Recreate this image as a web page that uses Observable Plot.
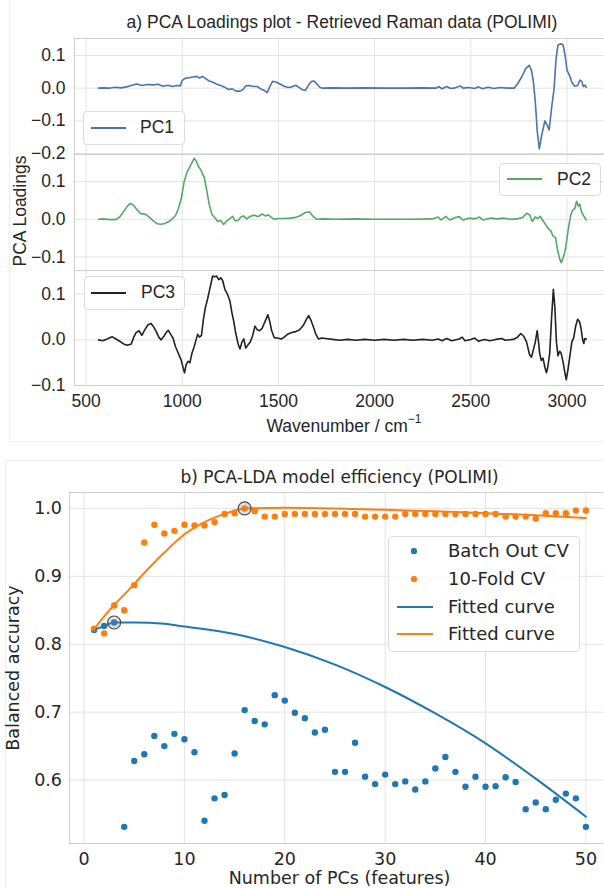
<!DOCTYPE html>
<html><head><meta charset="utf-8">
<script src="https://cdn.jsdelivr.net/npm/d3@7"></script>
<script src="https://cdn.jsdelivr.net/npm/@observablehq/plot@0.6"></script>
<style>
html,body{margin:0;padding:0;background:#fff;}
#root{position:relative;width:604px;height:889px;overflow:hidden;background:#fff;}
.abs{position:absolute;white-space:nowrap;line-height:1;color:#262626;}
</style></head><body><div id="root"></div>
<script>
// ---------- DATA ----------
const waveTicks = [500, 1000, 1500, 2000, 2500, 3000];
const pc1Ticks = [-0.2, -0.1, 0.0, 0.1];
const pc2Ticks = [-0.1, 0.0, 0.1];
const pc3Ticks = [-0.1, 0.0, 0.1];

const pc1 = [[565,0],[590,0.001],[620,0],[650,0.003],[680,0.001],[710,0.004],[740,0.009],[765,0.013],[790,0.008],[820,0.011],[850,0.01],[875,0.012],[900,0.006],[925,0.009],[950,0.005],[970,0.008],[990,0.007],[1000,0.024],[1015,0.03],[1035,0.032],[1055,0.034],[1075,0.036],[1090,0.031],[1105,0.036],[1120,0.03],[1140,0.022],[1160,0.018],[1180,0.012],[1200,0.008],[1220,0.003],[1240,-0.004],[1260,-0.002],[1280,-0.009],[1300,-0.009],[1315,-0.005],[1330,0.007],[1350,0.008],[1370,0.005],[1390,0.005],[1410,-0.003],[1430,-0.008],[1442,-0.014],[1455,0.005],[1470,0.021],[1490,0.018],[1510,0.012],[1530,0.006],[1550,0.002],[1570,0.004],[1590,0.009],[1605,0.003],[1625,-0.005],[1640,-0.007],[1655,0.008],[1670,0.02],[1685,0.022],[1700,0.013],[1715,0.003],[1730,0.0],[1780,0.001],[1850,0],[1950,0.001],[2050,0],[2150,0],[2250,0.001],[2320,0],[2335,0.005],[2350,-0.002],[2375,0.005],[2395,-0.001],[2420,0.001],[2445,0.007],[2460,0],[2490,0.002],[2520,-0.001],[2540,0.004],[2560,-0.002],[2590,0.003],[2620,-0.001],[2650,0.002],[2690,0],[2725,0],[2745,0.015],[2765,0.035],[2785,0.06],[2803,0.07],[2815,0.055],[2825,0.02],[2835,-0.04],[2845,-0.13],[2856,-0.186],[2868,-0.145],[2885,-0.1],[2897,-0.113],[2907,-0.128],[2920,-0.06],[2933,0.0],[2943,0.09],[2953,0.132],[2968,0.136],[2980,0.132],[2990,0.1],[3000,0.055],[3012,0.04],[3025,0.018],[3040,0.006],[3055,0.008],[3067,0.025],[3077,0.02],[3085,0.005],[3093,0.009],[3100,0.003]];

const pc2 = [[565,0],[590,0.001],[620,-0.001],[655,-0.001],[675,0.006],[695,0.02],[715,0.035],[730,0.042],[745,0.038],[765,0.025],[785,0.015],[810,0.013],[830,0.005],[850,-0.004],[870,-0.012],[890,-0.013],[910,-0.011],[930,-0.006],[950,0.002],[965,0.01],[980,0.028],[995,0.055],[1010,0.1],[1025,0.125],[1040,0.14],[1052,0.152],[1062,0.162],[1072,0.155],[1085,0.14],[1100,0.128],[1115,0.11],[1128,0.075],[1140,0.04],[1155,0.012],[1170,0.004],[1185,-0.006],[1200,-0.003],[1215,-0.014],[1230,-0.005],[1248,0.002],[1262,0.008],[1275,-0.004],[1290,-0.003],[1305,0.006],[1318,0.009],[1335,0.001],[1355,0.008],[1375,0.011],[1395,0.007],[1415,0.014],[1432,0.009],[1448,0.012],[1462,0.005],[1480,0.0],[1500,0.002],[1530,0.002],[1560,0.003],[1590,0.005],[1615,0.01],[1640,0.018],[1660,0.02],[1680,0.008],[1700,0.0],[1730,0.001],[1800,0],[1900,0.001],[2000,0],[2100,0],[2200,0],[2300,0.001],[2330,0.006],[2345,-0.002],[2370,0.008],[2390,-0.002],[2415,0.004],[2440,0.007],[2460,-0.002],[2490,0.003],[2520,0.001],[2545,0.006],[2565,-0.002],[2600,0.003],[2640,0.001],[2670,0.003],[2700,0],[2740,0.001],[2770,0.005],[2790,0.016],[2805,0.012],[2820,-0.006],[2835,0.006],[2848,0.002],[2860,0.008],[2875,-0.004],[2890,-0.015],[2903,-0.025],[2915,-0.03],[2928,-0.045],[2940,-0.048],[2952,-0.085],[2962,-0.105],[2970,-0.115],[2978,-0.105],[2990,-0.085],[3000,-0.05],[3010,-0.015],[3020,0.012],[3030,0.025],[3040,0.028],[3050,0.048],[3058,0.035],[3066,0.04],[3075,0.02],[3088,0.008],[3100,-0.002]];

const pc3 = [[565,0],[585,-0.002],[600,0.0],[615,0.003],[635,0.007],[655,0.002],[675,-0.003],[695,-0.009],[715,-0.012],[735,-0.009],[748,0.006],[760,0.016],[775,0.02],[790,0.01],[805,0.022],[822,0.033],[838,0.036],[852,0.028],[865,0.018],[878,0.006],[890,0.0],[905,0.008],[918,0.017],[928,0.021],[940,0.012],[952,0.004],[965,-0.015],[980,-0.03],[995,-0.045],[1005,-0.062],[1012,-0.072],[1020,-0.055],[1030,-0.047],[1040,-0.05],[1050,-0.03],[1062,-0.015],[1072,0.0],[1080,0.012],[1090,0.006],[1100,0.01],[1110,0.045],[1120,0.07],[1132,0.09],[1145,0.115],[1158,0.14],[1168,0.138],[1178,0.14],[1190,0.132],[1200,0.136],[1210,0.13],[1222,0.11],[1235,0.1],[1248,0.085],[1258,0.06],[1268,0.04],[1278,0.015],[1290,-0.008],[1300,-0.02],[1310,-0.005],[1320,0.002],[1330,-0.018],[1340,-0.012],[1352,-0.006],[1365,0.008],[1378,0.03],[1390,0.022],[1402,0.02],[1415,0.025],[1430,0.04],[1445,0.055],[1455,0.04],[1465,0.02],[1478,0.005],[1495,0.004],[1515,0.002],[1530,0.006],[1550,0.013],[1570,0.016],[1590,0.018],[1610,0.022],[1630,0.032],[1645,0.045],[1657,0.053],[1670,0.042],[1682,0.028],[1695,0.012],[1708,0.002],[1725,0.004],[1745,0.003],[1780,0.001],[1820,-0.001],[1860,0.001],[1900,-0.001],[1950,0.001],[2000,-0.001],[2050,0.001],[2100,-0.001],[2150,0.001],[2200,-0.001],[2250,0.001],[2300,-0.001],[2330,0.002],[2350,-0.002],[2375,0.003],[2400,-0.002],[2440,0.002],[2455,0.006],[2470,-0.002],[2500,0.001],[2520,0.004],[2540,-0.003],[2570,0.001],[2600,-0.002],[2630,0.001],[2660,0.003],[2680,-0.001],[2720,0.001],[2740,0.005],[2760,0.014],[2775,0.008],[2790,-0.005],[2805,-0.032],[2815,-0.038],[2825,-0.022],[2835,-0.005],[2845,0.02],[2852,-0.005],[2858,-0.03],[2866,-0.045],[2875,-0.04],[2885,-0.06],[2893,-0.072],[2900,-0.06],[2910,-0.03],[2920,0.05],[2929,0.111],[2937,0.07],[2945,-0.005],[2953,-0.035],[2962,-0.025],[2970,-0.03],[2980,-0.05],[2988,-0.07],[2996,-0.087],[3005,-0.065],[3015,-0.035],[3025,-0.005],[3035,0.005],[3045,0.03],[3055,0.045],[3065,0.04],[3073,0.025],[3080,0.003],[3087,-0.008],[3093,0.003],[3100,0.002]];

const pcTicks = [0, 10, 20, 30, 40, 50];
const accTicks = [0.6, 0.7, 0.8, 0.9, 1.0];
const pcs = [1,2,3,4,5,6,7,8,9,10,11,12,13,14,15,16,17,18,19,20,21,22,23,24,25,26,27,28,29,30,31,32,33,34,35,36,37,38,39,40,41,42,43,44,45,46,47,48,49,50];
const batchOut = [0.821,0.827,0.832,0.531,0.628,0.638,0.665,0.650,0.668,0.660,0.641,0.540,0.573,0.578,0.639,0.703,0.687,0.682,0.725,0.717,0.699,0.691,0.670,0.674,0.612,0.612,0.655,0.605,0.594,0.608,0.594,0.598,0.586,0.598,0.617,0.634,0.612,0.590,0.605,0.590,0.591,0.604,0.597,0.557,0.567,0.557,0.571,0.580,0.573,0.531];
const tenFold = [0.823,0.816,0.857,0.850,0.887,0.950,0.976,0.963,0.967,0.976,0.975,0.975,0.980,0.992,0.993,1.000,0.996,0.988,0.988,0.992,0.992,0.992,0.992,0.992,0.992,0.992,0.992,0.988,0.988,0.988,0.988,0.992,0.992,0.992,0.992,0.992,0.992,0.992,0.992,0.992,0.992,0.988,0.988,0.988,0.985,0.993,0.993,0.993,0.997,0.997];
const blueFitX = [1,2,3,5,8,10,15,20,25,30,35,40,45,50];
const blueFitY = [0.821,0.827,0.832,0.832,0.830,0.826,0.815,0.796,0.770,0.737,0.698,0.654,0.602,0.546];
const orangeFitX = [1,2,3,4,6,8,10,12,14,16,20,25,30,35,40,45,50];
const orangeFitY = [0.822,0.841,0.858,0.873,0.905,0.935,0.962,0.980,0.992,1.0,1.001,1.0,0.998,0.996,0.993,0.990,0.986];

// ---------- DRAWING ----------
const root = document.getElementById("root");
const TOP_FONT = "'Liberation Sans', Arial, sans-serif";
const BOT_FONT = "'DejaVu Sans', sans-serif";
const fmt = d3.format(".1f");
const GRID = "#e3e3e3", SPINE = "#cfcfcf";

function mount(svg, top) {
  svg.style.position = "absolute";
  svg.style.left = "0px";
  svg.style.top = top + "px";
  svg.style.overflow = "visible";
  svg.style.maxWidth = "none";
  svg.style.background = "transparent";
  root.appendChild(svg);
}

function loadingPanel(data, color, yDomain, yTicks, frameH, withX) {
  const mb = withX ? 40 : 0;
  return Plot.plot({
    width: 620, height: frameH + mb,
    marginLeft: 74, marginRight: 10, marginTop: 0, marginBottom: mb,
    style: {fontFamily: TOP_FONT, fontSize: "17.5px", color: "#262626", background: "transparent", overflow: "visible"},
    x: withX ? {domain: [440, 3226]} : {domain: [440, 3226], axis: null},
    y: {domain: yDomain},
    marks: [
      Plot.gridX(waveTicks, {stroke: GRID, strokeOpacity: 1}),
      Plot.gridY(yTicks, {stroke: GRID, strokeOpacity: 1}),
      Plot.frame({stroke: SPINE}),
      Plot.line(data, {x: d => d[0], y: d => d[1], stroke: color, strokeWidth: 1.6}),
      Plot.axisY(yTicks, {tickSize: 0, tickPadding: 9, tickFormat: fmt, label: null}),
      withX ? Plot.axisX(waveTicks, {tickSize: 0, tickPadding: 9, tickFormat: d3.format("d"), label: null}) : null
    ].filter(Boolean)
  });
}

mount(loadingPanel(pc1, "#4c72b0", [-0.203, 0.152], pc1Ticks, 116, false), 38);
mount(loadingPanel(pc2, "#55a868", [-0.136, 0.172], pc2Ticks, 116, false), 154);
mount(loadingPanel(pc3, "#222222", [-0.1, 0.152], pc3Ticks, 115, true), 270);

const rows = pcs.map((p, i) => ({pc: p, batch: batchOut[i], fold: tenFold[i]}));
const bBest = d3.maxIndex(batchOut), fBest = d3.maxIndex(tenFold);
const best = [{pc: pcs[bBest], acc: batchOut[bBest]}, {pc: pcs[fBest], acc: tenFold[fBest]}];
const blueFit = blueFitX.map((x, i) => ({x, y: blueFitY[i]}));
const orangeFit = orangeFitX.map((x, i) => ({x, y: orangeFitY[i]}));

const bottom = Plot.plot({
  width: 620, height: 351 + 40,
  marginLeft: 69, marginRight: 10, marginTop: 0, marginBottom: 40,
  style: {fontFamily: BOT_FONT, fontSize: "17.5px", color: "#262626", background: "transparent", overflow: "visible"},
  x: {domain: [-1.45, 52.45]},
  y: {domain: [0.5065, 1.0235]},
  marks: [
    Plot.gridX(pcTicks, {stroke: GRID, strokeOpacity: 1}),
    Plot.gridY(accTicks, {stroke: GRID, strokeOpacity: 1}),
    Plot.frame({stroke: SPINE}),
    Plot.dot(rows, {x: "pc", y: "batch", fill: "#1f77b4", r: 3.2}),
    Plot.dot(rows, {x: "pc", y: "fold", fill: "#ff7f0e", r: 3.2}),
    Plot.line(blueFit, {x: "x", y: "y", stroke: "#1f77b4", strokeWidth: 2, curve: "monotone-x"}),
    Plot.line(orangeFit, {x: "x", y: "y", stroke: "#ff7f0e", strokeWidth: 2, curve: "monotone-x"}),
    Plot.dot(best, {x: "pc", y: "acc", r: 6.5, stroke: "#4a4a4a", strokeWidth: 1.2, fill: "#888", fillOpacity: 0.25}),
    Plot.axisY(accTicks, {tickSize: 0, tickPadding: 7.5, tickFormat: fmt, label: null}),
    Plot.axisX(pcTicks, {tickSize: 0, tickPadding: 9, label: null})
  ]
});
mount(bottom, 492);

// ---------- TEXT & LEGENDS (overlay) ----------
function box(x, y, w, h, css) {
  const d = document.createElement("div");
  d.style.cssText = `position:absolute;left:${x}px;top:${y}px;width:${w}px;height:${h}px;box-sizing:border-box;` + (css || "");
  root.appendChild(d);
  return d;
}
function text(s, x, y, font, size, anchor, rotate) {
  const d = document.createElement("div");
  d.className = "abs";
  d.style.fontFamily = font;
  d.style.fontSize = size + "px";
  d.style.left = x + "px";
  d.style.top = y + "px";
  const tx = anchor === "start" ? "0" : "-50%";
  d.style.transform = `translate(${tx},-50%)` + (rotate ? " rotate(-90deg)" : "");
  d.innerHTML = s;
  root.appendChild(d);
  return d;
}
function hline(x1, x2, y, color, w) {
  box(x1, Math.round(y - w / 2), x2 - x1, w, `background:${color};`);
}
function dotMark(x, y, r, color) {
  box(x - r, y - r, 2 * r, 2 * r, `background:${color};border-radius:50%;`);
}

// faint figure frames
box(9, -2, 700, 444, "border:1px solid #efefef;");
box(5, 460, 700, 500, "border:1px solid #efefef;");

// panel a
text("a) PCA Loadings plot - Retrieved Raman data (POLIMI)", 342, 23, TOP_FONT, 17.5);
text("PCA Loadings", 21, 211, TOP_FONT, 17.5, "middle", true);
text("Wavenumber / cm<span style='font-size:12px;position:relative;top:-9px;'>\u22121</span>", 344, 427, TOP_FONT, 17.5);

const legCss = "background:rgba(255,255,255,0.8);border:1px solid #dcdcdc;border-radius:4px;";
box(83, 111, 102, 34, legCss);
hline(90.5, 126, 128, "#4c72b0", 2);
text("PC1", 140, 128, TOP_FONT, 17.5, "start");

box(499, 163, 102, 33, legCss);
hline(506.5, 542, 179, "#55a868", 2);
text("PC2", 557, 179.5, TOP_FONT, 17.5, "start");

box(84, 276, 101, 34, legCss);
hline(90.5, 126, 293, "#222222", 2);
text("PC3", 141, 293, TOP_FONT, 17.5, "start");

// panel b
text("b) PCA-LDA model efficiency (POLIMI)", 339.5, 477, BOT_FONT, 17);
text("Balanced accuracy", 14, 667.5, BOT_FONT, 17.5, "middle", true);
text("Number of PCs (features)", 339.5, 879, BOT_FONT, 17.5);

box(388, 536, 192, 116, legCss);
dotMark(414, 551, 2.6, "#1f77b4");
text("Batch Out CV", 448, 551, BOT_FONT, 18, "start");
dotMark(414, 579, 2.6, "#ff7f0e");
text("10-Fold CV", 448, 579, BOT_FONT, 18, "start");
hline(397, 433, 607, "#1f77b4", 2);
text("Fitted curve", 448, 607, BOT_FONT, 18, "start");
hline(397, 433, 634, "#ff7f0e", 2);
text("Fitted curve", 448, 634, BOT_FONT, 18, "start");
</script>
</body></html>
